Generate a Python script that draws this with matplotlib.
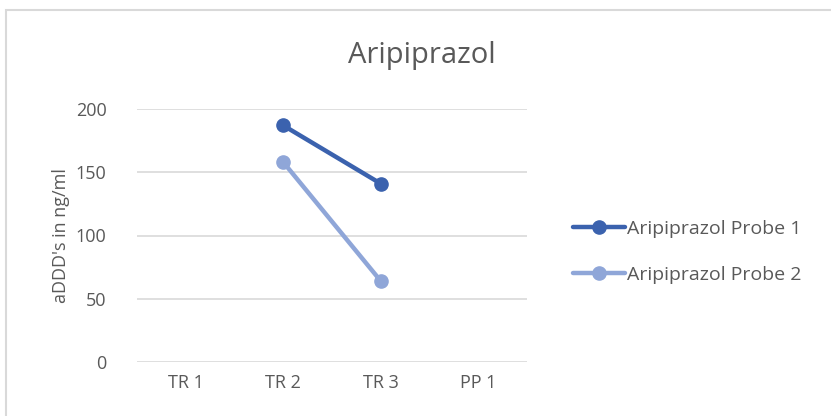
"""Aripiprazol - aDDD's in ng/ml per Zeitpunkt"""

import numpy as np
import matplotlib.pyplot as plt
from matplotlib.patches import Rectangle

plt.rcParams["font.family"] = ["Open Sans", "DejaVu Sans"]

categories = ["TR 1", "TR 2", "TR 3", "PP 1"]
probe1 = [np.nan, 187, 141, np.nan]
probe2 = [np.nan, 158, 64, np.nan]
series_names = ["Aripiprazol Probe 1", "Aripiprazol Probe 2"]
yticks = [0, 50, 100, 150, 200]

W, H = 831, 416
fig = plt.figure(figsize=(W / 100, H / 100), dpi=100)
ax = fig.add_axes([137 / W, 1 - 362 / H, 390 / W, (362 - 109) / H])

text_col = "#595959"
grid_col = "#D9D9D9"
colors = ["#3B62AE", "#8FA6D8"]

x = np.arange(len(categories))
for vals, col, name in zip([probe1, probe2], colors, series_names):
    ax.plot(x, vals, color=col, linewidth=3.2, marker="o", markersize=9.5,
            solid_capstyle="round", label=name, zorder=3)

ax.set_xlim(-0.5, len(categories) - 0.5)
ax.set_ylim(0, 200)
ax.set_xticks(x)
ax.set_xticklabels(categories)
ax.set_yticks(yticks)
ax.tick_params(length=0, labelsize=13, labelcolor=text_col)
ax.tick_params(axis="x", pad=9)
ax.tick_params(axis="y", pad=22)
ax.grid(axis="y", color=grid_col, linewidth=1.2)
ax.set_axisbelow(True)
for s in ax.spines.values():
    s.set_visible(False)

ax.set_ylabel("aDDD's in ng/ml", fontsize=13, color=text_col, labelpad=4)

fig.text(422 / W, 1 - 56 / H, "Aripiprazol", fontsize=21, color=text_col,
         ha="center", va="center")

leg = fig.legend(loc="center left", bbox_to_anchor=(565 / W, 1 - 252 / H),
                 frameon=False, fontsize=14, handlelength=2.7,
                 handletextpad=0.1, labelspacing=1.45, borderaxespad=0)
for t in leg.get_texts():
    t.set_color(text_col)

# chart frame (only top and left edges visible)
fig.patches.append(Rectangle((6 / W, -0.1), 1.2, 1 - 10 / H + 0.1,
                             transform=fig.transFigure, fill=False,
                             edgecolor=grid_col, linewidth=1.5))

plt.savefig("out.png", dpi=100)
